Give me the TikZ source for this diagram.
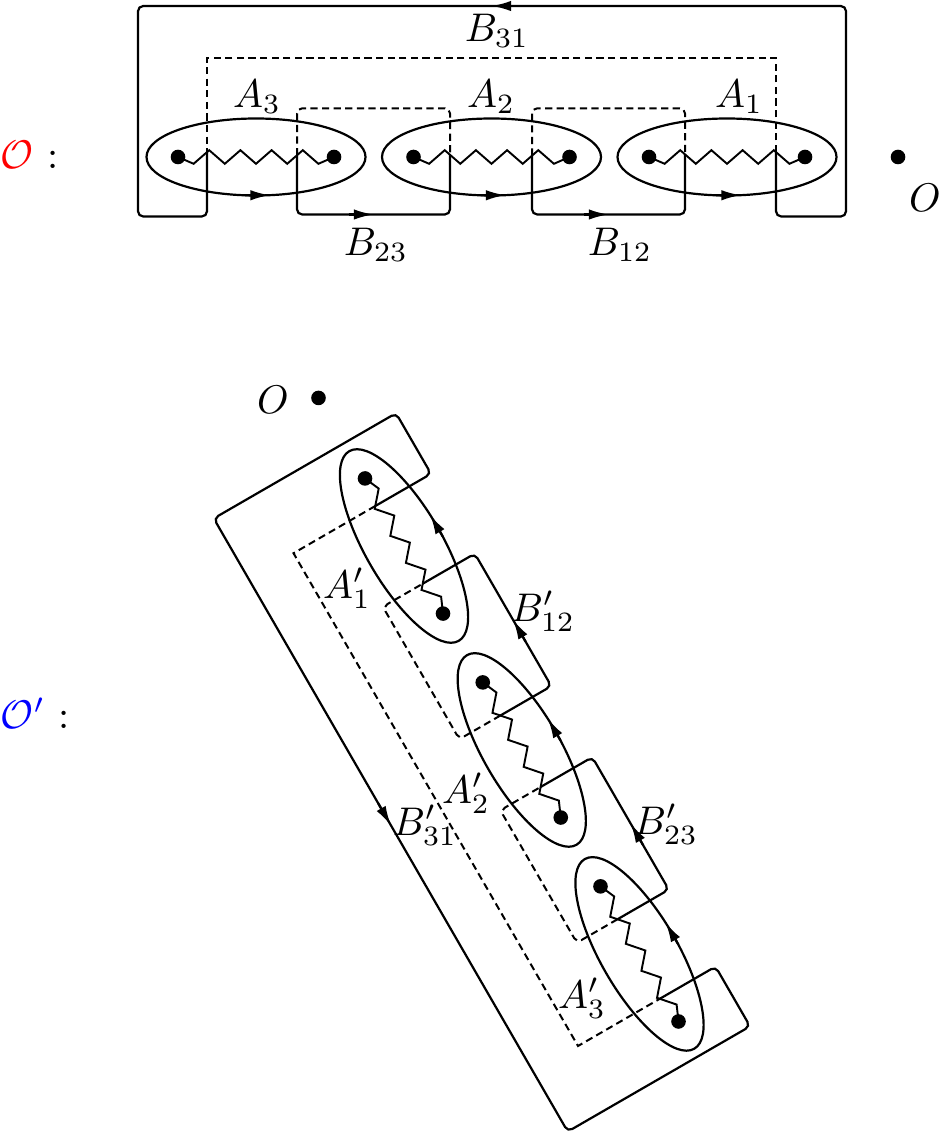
\documentclass[tikz,border=0pt]{standalone}
\usetikzlibrary{arrows.meta}
\tikzset{
  solidln/.style={line width=0.55pt, rounded corners=1.3pt},
  dashln/.style={line width=0.5pt, dash pattern=on 1.8pt off 1.1pt},
  ell/.style={line width=0.55pt},
  zz/.style={line width=0.48pt, line join=miter},
  dotst/.style={circle, fill=black, inner sep=0pt, minimum size=3.65pt},
  arr/.style={line width=0.55pt, -{Latex[length=4.9pt,width=2.6pt]}},
  lbl/.style={inner sep=0pt, anchor=center},
}
\newcommand\drawconfig[1]{%
  \foreach \xc/\nn in {0/1,-235.5/2,-471/3}{
    \draw[ell] (\xc,0) ellipse [x radius=109.5, y radius=38.5];
    \node[dotst] (#1l\nn) at ({\xc-78},0) {};
    \node[dotst] (#1r\nn) at ({\xc+78},0) {};
    \draw[zz] (#1l\nn.center) \foreach \k in {1,...,9}{ -- ({\xc-78+15.6*\k},{ifthenelse(isodd(\k),-6.8,6.8)}) } -- (#1r\nn.center);
    \draw[arr] ({\xc-11},-38.31) -- ({\xc+14},-38.19);
  }
  % B31
  \draw[solidln] (-520,4.9) -- (-520,-59.5) -- (-589,-59.5) -- (-589,151) -- (119,151) -- (119,-59.5) -- (49,-59.5) -- (49,4.9);
  \draw[dashln] (49,4.9) -- (49,99.3) -- (-520,99.3) -- (-520,4.9);
  % B23
  \draw[solidln] (-430,1.7) -- (-430,-57.5) -- (-277,-57.5) -- (-277,2.2);
  \draw[dashln, rounded corners=1.3pt] (-430,1.7) -- (-430,48.7) -- (-277,48.7) -- (-277,2.2);
  % B12
  \draw[solidln] (-195,1.3) -- (-195,-57.5) -- (-42,-57.5) -- (-42,2.6);
  \draw[dashln, rounded corners=1.3pt] (-195,1.3) -- (-195,48.7) -- (-42,48.7) -- (-42,2.6);
  % arrows
  \draw[arr] (-210,151) -- (-235.5,151);
  \draw[arr] (-378.5,-57.5) -- (-353.5,-57.5);
  \draw[arr] (-143.5,-57.5) -- (-118.5,-57.5);
  % point O
  \node[dotst] (#1O) at (171,0) {};
}
\begin{document}
\begin{tikzpicture}[x=0.25pt,y=0.25pt]
\useasboundingbox (0,0) rectangle (941,-1132);
\begin{scope}[shift={(727,-157)}]
  \drawconfig{t}
\end{scope}
\begin{scope}[shift={(404,-546)},rotate=120]
  \drawconfig{b}
\end{scope}
% top labels
\node[lbl] (tA3) at (257,-97) {$A_3$};
\node[lbl] (tA2) at (491,-97) {$A_2$};
\node[lbl] (tA1) at (739,-97) {$A_1$};
\node[lbl] (tB31) at (497,-31) {$B_{31}$};
\node[lbl] (tB23) at (376,-245) {$B_{23}$};
\node[lbl] (tB12) at (620,-245) {$B_{12}$};
\node[lbl] (tOl) at (925,-198) {$O$};
\node[anchor=base west, inner sep=0pt] (tname) at (0,-169) {$\textcolor{red}{\mathcal{O}}$ :};
% bottom labels
\node[lbl] (bOl) at (273,-400) {$O$};
\node[lbl] (bA1) at (347,-588) {$A'_1$};
\node[lbl] (bB12) at (543,-611) {$B'_{12}$};
\node[lbl] (bA2) at (466,-793) {$A'_2$};
\node[lbl] (bB31) at (425,-825) {$B'_{31}$};
\node[lbl] (bB23) at (666,-824) {$B'_{23}$};
\node[lbl] (bA3) at (582,-998) {$A'_3$};
\node[anchor=base west, inner sep=0pt] (bname) at (0,-728) {$\textcolor{blue}{\mathcal{O}'}$ :};
\end{tikzpicture}
\end{document}
